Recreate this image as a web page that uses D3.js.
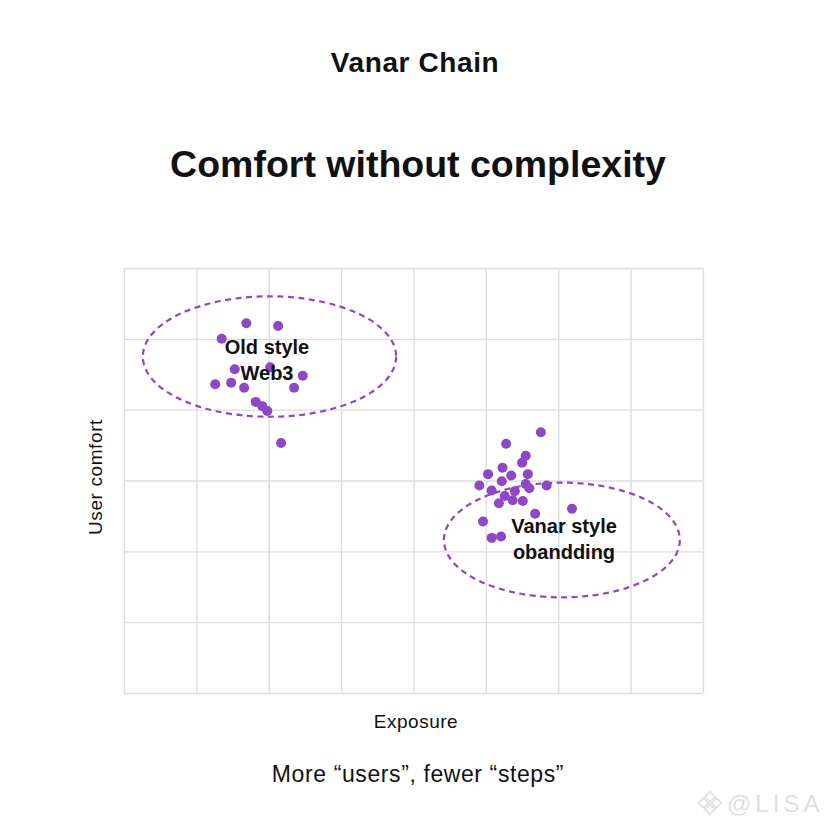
<!DOCTYPE html>
<html>
<head>
<meta charset="utf-8">
<script src="https://cdn.jsdelivr.net/npm/d3@7"></script>
<style>
  body { margin: 0; background: #fff; }
  svg { display: block; font-family: "Liberation Sans", Arial, sans-serif; }
</style>
</head>
<body>
<div id="chart"></div>
<script>
// cluster "Old style Web3" (exposure, comfort)
const oldX = [1.69, 2.13, 1.35, 1.53, 2.02, 2.47, 1.26, 1.48, 1.66, 2.35, 1.82, 1.91, 1.98, 2.17]
const oldY = [5.22, 5.18, 5.00, 4.57, 4.60, 4.48, 4.36, 4.38, 4.31, 4.31, 4.11, 4.05, 3.98, 3.53]

// cluster "Vanar style onboarding"
const vanarX = [5.76, 5.28, 5.55, 5.50, 5.23, 5.03, 5.35, 5.58, 5.22, 4.91, 5.55, 5.84,
    5.60, 5.08, 5.40, 5.26, 5.18, 5.37, 5.51, 5.68, 6.19, 4.96, 5.08, 5.21]
const vanarY = [3.68, 3.52, 3.35, 3.25, 3.18, 3.09, 3.07, 3.09, 2.99, 2.93, 2.95, 2.93,
    2.89, 2.86, 2.85, 2.78, 2.68, 2.72, 2.71, 2.53, 2.60, 2.42, 2.19, 2.21]

// ellipses: [cx, cy, rx, ry] in data units
const oldEllipse = [2.01, 4.75, 1.75, 0.85]
const vanarEllipse = [6.05, 2.16, 1.63, 0.81]

const xTicks = [0, 1, 2, 3, 4, 5, 6, 7, 8]
const yTicks = [0, 1, 2, 3, 4, 5, 6]

const W = 828, H = 828
const margin = {left: 124, right: 125, top: 268, bottom: 135}

const svg = d3.select('#chart').append('svg')
    .attr('width', W)
    .attr('height', H)

const x = d3.scaleLinear().domain([0, 8]).range([margin.left, W - margin.right])
const y = d3.scaleLinear().domain([0, 6]).range([H - margin.bottom, margin.top])

// grid
svg.append('g')
    .attr('transform', `translate(0,${H - margin.bottom})`)
    .call(d3.axisBottom(x).tickValues(xTicks).tickSize(-(H - margin.bottom - margin.top)).tickFormat(''))
    .call(g => g.select('.domain').remove())
    .call(g => g.selectAll('line').attr('stroke', '#dedede').attr('stroke-width', 1.4))

svg.append('g')
    .attr('transform', `translate(${margin.left},0)`)
    .call(d3.axisLeft(y).tickValues(yTicks).tickSize(-(W - margin.right - margin.left)).tickFormat(''))
    .call(g => g.select('.domain').remove())
    .call(g => g.selectAll('line').attr('stroke', '#dedede').attr('stroke-width', 1.4))

const purple = '#8e47c5'

// ellipses
function drawEllipse(e) {
    svg.append('ellipse')
        .attr('cx', x(e[0]))
        .attr('cy', y(e[1]))
        .attr('rx', x(e[2]) - x(0))
        .attr('ry', y(0) - y(e[3]))
        .attr('fill', 'none')
        .attr('stroke', purple)
        .attr('stroke-width', 2.2)
        .attr('stroke-dasharray', '6,4.5')
}
drawEllipse(oldEllipse)
drawEllipse(vanarEllipse)

// points
function drawPoints(xs, ys) {
    svg.append('g').selectAll('circle')
        .data(xs.map((d, i) => [d, ys[i]]))
        .enter()
        .append('circle')
        .attr('cx', d => x(d[0]))
        .attr('cy', d => y(d[1]))
        .attr('r', 5)
        .attr('fill', purple)
}
drawPoints(oldX, oldY)
drawPoints(vanarX, vanarY)

// cluster labels
function label(lines, cx, cy) {
    const t = svg.append('text')
        .attr('text-anchor', 'middle')
        .attr('font-weight', 'bold')
        .attr('font-size', 20)
        .attr('fill', '#111')
    lines.forEach((l, i) => {
        t.append('tspan').attr('x', cx).attr('y', cy + i * 26).text(l)
    })
}
label(['Old style', 'Web3'], 267, 354)
label(['Vanar style', 'obandding'], 564, 533)

// titles
svg.append('text')
    .attr('x', 415).attr('y', 72)
    .attr('text-anchor', 'middle')
    .attr('font-weight', 'bold')
    .attr('font-size', 28)
    .attr('letter-spacing', 0.6)
    .attr('fill', '#111')
    .text('Vanar Chain')

svg.append('text')
    .attr('x', 418).attr('y', 177)
    .attr('text-anchor', 'middle')
    .attr('font-weight', 'bold')
    .attr('font-size', 37.5)
    .attr('fill', '#111')
    .text('Comfort without complexity')

// axis labels
svg.append('text')
    .attr('x', 416).attr('y', 728)
    .attr('text-anchor', 'middle')
    .attr('font-size', 19)
    .attr('letter-spacing', 0.5)
    .attr('fill', '#111')
    .text('Exposure')

svg.append('text')
    .attr('transform', 'translate(102,477) rotate(-90)')
    .attr('text-anchor', 'middle')
    .attr('font-size', 19)
    .attr('letter-spacing', 0.6)
    .attr('fill', '#111')
    .text('User comfort')

svg.append('text')
    .attr('x', 418).attr('y', 782)
    .attr('text-anchor', 'middle')
    .attr('font-size', 23)
    .attr('letter-spacing', 0.6)
    .attr('fill', '#111')
    .text('More \u201cusers\u201d, fewer \u201csteps\u201d')

// watermark
const wm = svg.append('g').attr('opacity', 0.3)
wm.append('g').attr('transform', 'translate(710,803) rotate(45)')
    .selectAll('rect')
    .data([[-8, -8], [1, -8], [-8, 1], [1, 1]])
    .enter().append('rect')
    .attr('x', d => d[0]).attr('y', d => d[1])
    .attr('width', 7).attr('height', 7)
    .attr('fill', 'none').attr('stroke', '#999').attr('stroke-width', 1.6)
wm.append('text')
    .attr('x', 727).attr('y', 812)
    .attr('font-size', 24)
    .attr('letter-spacing', 4)
    .attr('fill', '#999')
    .text('@LISA')
</script>
</body>
</html>
